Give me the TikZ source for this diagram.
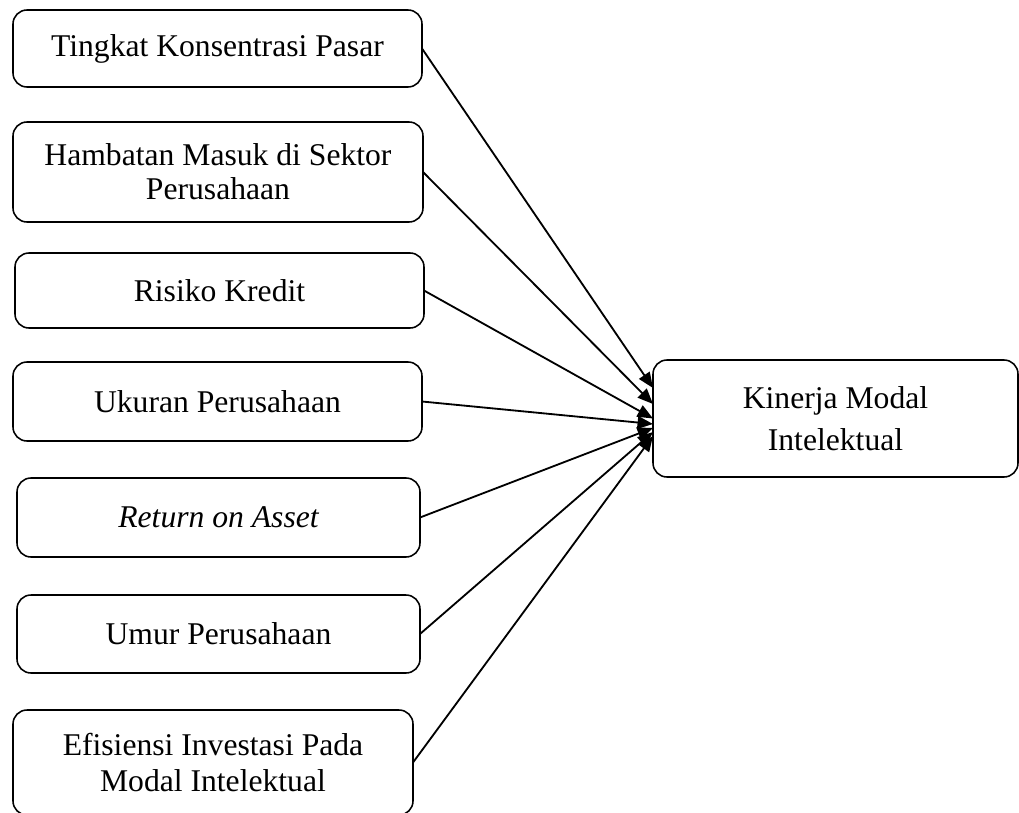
\documentclass[tikz,border=0pt]{standalone}
\usepackage{fontspec}
\setmainfont{Liberation Serif}
\usetikzlibrary{arrows.meta}
\tikzset{
	varbox/.style={shape=rectangle,rounded corners=0.35cm,draw=black,fill=white,line width=1.1pt,
		inner sep=0pt,outer sep=0pt,align=center,font=\fontsize{22.5}{25}\selectfont},
	panah/.style={-{Triangle[length=11pt,width=9pt]},line width=1.3pt}
}
\begin{document}
\begin{tikzpicture}
	\useasboundingbox (0,0) rectangle (25.475,-20.325);
	\node [varbox,minimum width=10.225cm,minimum height=1.925cm] (X1) at (5.4375,-1.2125) {Tingkat Konsentrasi Pasar};
	\node [varbox,minimum width=10.25cm,minimum height=2.5cm] (X2) at (5.45,-4.3) {Hambatan Masuk di Sektor\\[-1pt] Perusahaan};
	\node [varbox,minimum width=10.225cm,minimum height=1.875cm] (X3) at (5.4875,-7.2625) {Risiko Kredit};
	\node [varbox,minimum width=10.225cm,minimum height=1.975cm] (X4) at (5.4375,-10.0375) {Ukuran Perusahaan};
	\node [varbox,minimum width=10.075cm,minimum height=1.975cm] (X5) at (5.4625,-12.9375) {\itshape Return on Asset};
	\node [varbox,minimum width=10.075cm,minimum height=1.95cm] (X6) at (5.4625,-15.85) {Umur Perusahaan};
	\node [varbox,minimum width=10cm,minimum height=2.625cm] (X7) at (5.325,-19.0625) {Efisiensi Investasi Pada\\ Modal Intelektual};
	\node [varbox,minimum width=9.125cm,minimum height=2.925cm] (Y) at (20.8875,-10.4625) {Kinerja Modal\\[5pt] Intelektual};
	\draw [panah] (X1.east) -- ([yshift=0.7625cm]Y.west);
	\draw [panah] (X2.east) -- ([yshift=0.3625cm]Y.west);
	\draw [panah] (X3.east) -- (Y.west);
	\draw [panah] (X4.east) -- ([yshift=-0.1375cm]Y.west);
	\draw [panah] (X5.east) -- ([yshift=-0.2375cm]Y.west);
	\draw [panah] (X6.east) -- ([yshift=-0.3375cm]Y.west);
	\draw [panah] (X7.east) -- ([yshift=-0.4375cm]Y.west);
\end{tikzpicture}
\end{document}
